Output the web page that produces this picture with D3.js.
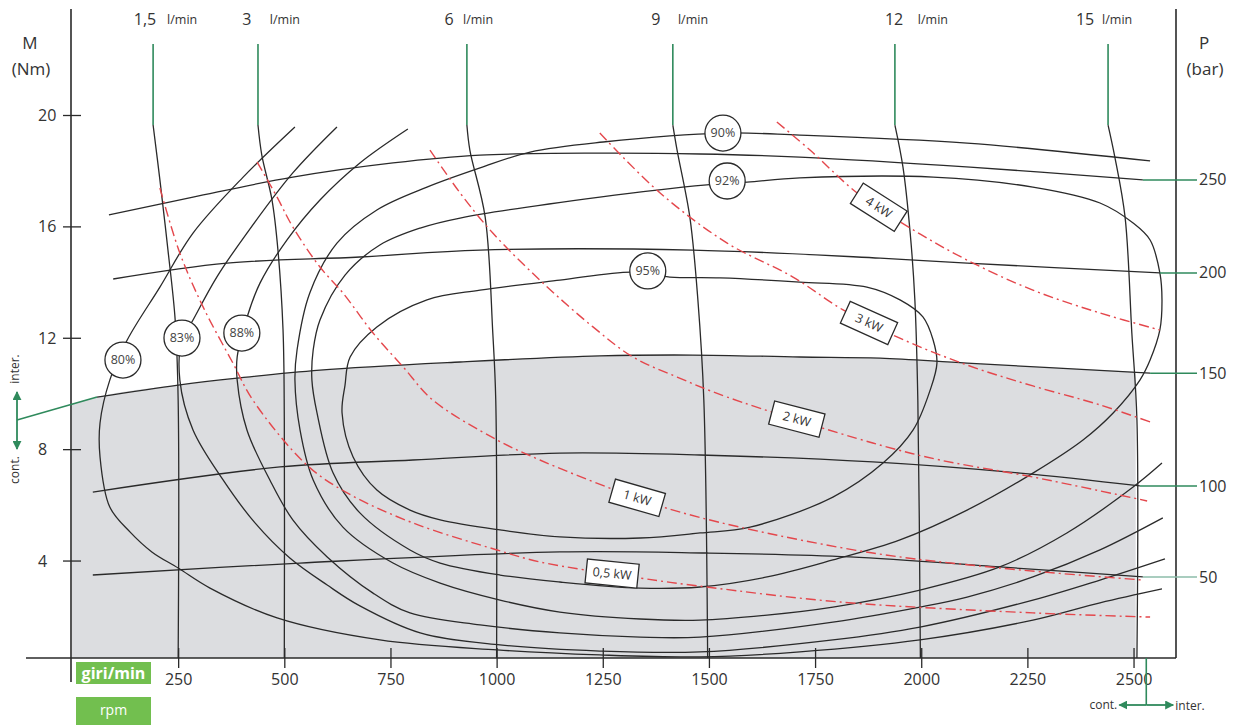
<!DOCTYPE html>
<html>
<head>
<meta charset="utf-8">
<script src="https://cdn.jsdelivr.net/npm/d3@7"></script>
<style>
    body { margin: 0; background: #fff; }
    svg { font-family: "Open Sans", sans-serif; }
    .axis text { font-size: 16px; fill: #333; }
</style>
</head>
<body>
<svg id="chart" width="1240" height="727"></svg>
<script>
// ---- data (rpm, Nm) ----
const rpmTicks = [250, 500, 750, 1000, 1250, 1500, 1750, 2000, 2250, 2500];
const torqueTicks = [4, 8, 12, 16, 20];

// pressure lines (bar)
const pressureNames = ["250", "200", "150", "100", "50"];
const p250 = [[87, 16.41], [285, 17.05], [520, 17.77], [756, 18.28], [961, 18.56], [1243, 18.63], [1479, 18.60], [1714, 18.49], [2115, 18.13], [2522, 17.67]];
const p200 = [[97, 14.11], [365, 14.68], [678, 14.90], [961, 15.15], [1462, 15.15], [1903, 14.86], [2108, 14.68], [2562, 14.33]];
const p150 = [[59, 9.87], [250, 10.30], [389, 10.55], [584, 10.84], [914, 11.13], [1243, 11.35], [1462, 11.38], [1714, 11.31], [1903, 11.27], [2108, 11.09], [2539, 10.73]];
const p100 = [[49, 6.46], [490, 7.36], [803, 7.61], [1149, 7.86], [1479, 7.79], [1886, 7.54], [2233, 7.14], [2515, 6.68]];
const p50 = [[49, 3.48], [537, 3.91], [1149, 4.31], [1495, 4.27], [1832, 4.13], [2185, 3.77], [2522, 3.41]];

// flow lines (l/min)
const flowNames = ["1,5", "3", "6", "9", "12", "15"];
const flow1_5 = [[191, 19.64], [207, 17.67], [226, 15.15], [243, 12.64], [250, 9.76], [250, 0.5]];
const flow3 = [[438, 19.64], [447, 18.56], [471, 16.95], [485, 15.15], [497, 12.28], [500, 9.05], [500, 0.5]];
const flow6 = [[930, 19.64], [937, 18.74], [973, 16.34], [991, 12.17], [998, 9.76], [1000, 0.5]];
const flow9 = [[1415, 19.64], [1425, 18.74], [1455, 16.34], [1474, 13.36], [1488, 9.76], [1497, 0.5]];
const flow12 = [[1938, 19.64], [1957, 18.13], [1974, 15.76], [1985, 13.36], [1992, 9.76], [1998, 0.5]];
const flow15 = [[2440, 19.64], [2456, 18.49], [2480, 16.34], [2496, 12.17], [2508, 9.05], [2508, 0.5]];
const flowLabelAt = [[172, 224], [412, 466], [888, 921], [1375, 1427], [1936, 1992], [2386, 2426]];

// efficiency contours
const effNames = ["80%", "83%", "88%", "90%", "92%", "95%"];
const eff80 = [[525, 19.57], [403, 17.77], [285, 15.76], [207, 13.82], [130, 11.92], [89, 10.48], [66, 8.94], [66, 7.72], [89, 5.92], [137, 5.02], [188, 4.31], [250, 3.73], [325, 3.01], [483, 1.94], [725, 1.15], [1001, 0.79], [1243, 0.61], [1479, 0.54], [1714, 0.72], [1997, 1.15], [2263, 1.86], [2421, 2.48], [2567, 2.98]];
const eff83 = [[624, 19.57], [520, 17.92], [412, 15.76], [341, 14.18], [285, 12.64], [259, 11.92], [254, 10.48], [285, 8.69], [353, 6.96], [431, 5.35], [513, 4.09], [601, 3.12], [678, 2.37], [820, 1.40], [1008, 0.97], [1243, 0.75], [1479, 0.72], [1792, 1.15], [1997, 1.61], [2263, 2.58], [2421, 3.30], [2574, 4.06]];
const eff88 = [[791, 19.50], [678, 18.28], [584, 16.95], [506, 15.51], [443, 13.97], [414, 12.82], [389, 11.31], [389, 10.48], [412, 8.69], [466, 6.89], [520, 5.46], [601, 4.13], [709, 2.83], [796, 2.12], [961, 1.69], [1149, 1.40], [1338, 1.25], [1479, 1.25], [1792, 1.79], [1997, 2.33], [2108, 2.69], [2263, 3.41], [2421, 4.38], [2569, 5.53]];
const eff90 = [[2539, 18.35], [2108, 18.99], [1714, 19.28], [1533, 19.35], [1251, 19.03], [1079, 18.67], [961, 18.10], [836, 17.41], [718, 16.59], [624, 15.40], [560, 13.61], [530, 11.56], [525, 10.48], [537, 8.69], [568, 6.89], [638, 5.20], [756, 3.91], [867, 3.19], [1008, 2.58], [1149, 2.15], [1338, 1.90], [1479, 1.86], [1637, 2.04], [1792, 2.33], [1997, 2.94], [2185, 3.77], [2343, 4.99], [2499, 6.64], [2567, 7.50]];
const eff92 = [[1590, 17.59], [1714, 17.74], [2028, 17.77], [2263, 17.41], [2421, 16.84], [2499, 16.12], [2539, 15.51], [2562, 14.33], [2567, 13.36], [2562, 12.28], [2539, 11.20], [2515, 10.48], [2452, 9.30], [2381, 8.33], [2263, 7.14], [2108, 5.81], [1950, 4.74], [1792, 4.02], [1637, 3.41], [1479, 3.05], [1338, 3.01], [1149, 3.23], [1008, 3.48], [867, 3.91], [796, 4.38], [678, 5.71], [615, 7.14], [577, 9.30], [565, 10.48], [568, 11.56], [584, 12.64], [643, 14.25], [725, 15.33], [820, 15.94], [914, 16.30], [1243, 17.05], [1495, 17.49]];
const eff95 = [[1408, 14.18], [1526, 14.15], [1714, 14.00], [1872, 13.82], [1950, 13.36], [2004, 12.75], [2028, 11.92], [2037, 11.09], [2021, 10.12], [1981, 8.69], [1910, 7.50], [1792, 6.28], [1597, 5.20], [1479, 4.99], [1338, 4.81], [1149, 4.85], [1008, 5.10], [867, 5.46], [796, 5.81], [718, 6.53], [662, 7.72], [636, 9.30], [643, 10.30], [655, 11.31], [718, 12.39], [836, 13.36], [961, 13.71], [1149, 14.07], [1319, 14.36]];
const effLabelAt = [[120, 11.20], [259, 11.99], [400, 12.17], [1533, 19.35], [1543, 17.63], [1356, 14.40]];

// power lines (kW)
const powerNames = ["0,5 kW", "1 kW", "2 kW", "3 kW", "4 kW"];
const kw0_5 = [[207, 17.38], [254, 15.04], [309, 13.10], [379, 11.09], [426, 9.76], [553, 7.43], [648, 6.43], [803, 5.35], [1001, 4.38], [1102, 3.95], [1338, 3.37], [1495, 3.05], [1809, 2.51], [2263, 2.12], [2539, 1.97]];
const kw1 = [[436, 18.31], [483, 17.05], [520, 15.98], [584, 14.54], [638, 13.61], [709, 12.17], [780, 10.95], [850, 9.76], [1001, 8.33], [1102, 7.61], [1260, 6.64], [1392, 5.92], [1573, 5.20], [1886, 4.27], [2185, 3.73], [2522, 3.30]];
const kw2 = [[843, 18.74], [914, 17.20], [991, 15.76], [1109, 13.97], [1227, 12.39], [1321, 11.31], [1425, 10.59], [1543, 9.87], [1886, 8.22], [2044, 7.61], [2263, 7.00], [2532, 6.14]];
const kw3 = [[1243, 19.35], [1385, 17.20], [1543, 15.40], [1698, 14.18], [1816, 13.00], [1943, 12.03], [2108, 11.02], [2263, 10.27], [2421, 9.59], [2546, 8.94]];
const kw4 = [[1660, 19.75], [1738, 18.74], [1849, 17.20], [1974, 15.94], [2108, 14.79], [2263, 13.71], [2421, 12.89], [2562, 12.28]];
const powerLabelRpm = [1272, 1331, 1707, 1877, 1900];

// continuous duty region (below 150 bar, up to max continuous speed)
const contTop = [[0, 9.62], [59, 9.87], [250, 10.30], [389, 10.55], [584, 10.84], [914, 11.13], [1243, 11.35], [1462, 11.38], [1714, 11.31], [1903, 11.27], [2108, 11.09], [2505, 10.78]];
const contMaxRpm = 2530;

// ---- chart ----
const svg = d3.select("#chart");
const green = "#2f8a5c";
const ink = "#2a2a2a";
const red = "#e4474c";

const x = d3.scaleLinear().domain([0, 2600]).range([72, 1176]);
const y = d3.scaleLinear().domain([0.5, 20]).range([658, 115]);

const line = d3.line()
    .x(d => x(d[0]))
    .y(d => y(d[1]))
    .curve(d3.curveCatmullRom.alpha(0.5));

const loop = d3.line()
    .x(d => x(d[0]))
    .y(d => y(d[1]))
    .curve(d3.curveCatmullRomClosed.alpha(0.5));

const defs = svg.append("defs");
defs.append("marker")
    .attr("id", "arrow")
    .attr("viewBox", "0 0 10 10")
    .attr("refX", 9).attr("refY", 5)
    .attr("markerWidth", 9).attr("markerHeight", 9)
    .attr("markerUnits", "userSpaceOnUse")
    .attr("orient", "auto-start-reverse")
    .append("path")
    .attr("d", "M0,0L10,5L0,10Z")
    .attr("fill", green);

// gray shaded area
svg.append("path")
    .datum(contTop)
    .attr("d", d3.area()
        .x(d => x(d[0]))
        .y0(y(0.5))
        .y1(d => y(d[1]))
        .curve(d3.curveMonotoneX))
    .attr("fill", "#dcdde0");

// black curves
const pressureLines = [p250, p200, p150, p100, p50];
const flowLines = [flow1_5, flow3, flow6, flow9, flow12, flow15];
const openEff = [eff80, eff83, eff88, eff90];
const closedEff = [eff92, eff95];

const curves = svg.append("g")
    .attr("fill", "none")
    .attr("stroke", ink)
    .attr("stroke-width", 1.3);

curves.selectAll(".pressure")
    .data(pressureLines)
    .enter().append("path")
    .attr("class", "pressure")
    .attr("d", line);

curves.selectAll(".flow")
    .data(flowLines)
    .enter().append("path")
    .attr("class", "flow")
    .attr("d", line);

curves.selectAll(".eff")
    .data(openEff)
    .enter().append("path")
    .attr("class", "eff")
    .attr("d", line);

curves.selectAll(".effloop")
    .data(closedEff)
    .enter().append("path")
    .attr("class", "effloop")
    .attr("d", loop);

// red power lines
const powerLines = [kw0_5, kw1, kw2, kw3, kw4];
svg.append("g")
    .attr("fill", "none")
    .attr("stroke", red)
    .attr("stroke-width", 1.4)
    .attr("stroke-dasharray", "10,4,2,4")
    .selectAll("path")
    .data(powerLines)
    .enter().append("path")
    .attr("d", line);

// axes
const yAxisG = svg.append("g")
    .attr("class", "axis")
    .attr("transform", `translate(${x(0) - 1},0)`)
    .call(d3.axisLeft(y).tickValues(torqueTicks).tickSize(8))
    .attr("font-family", null).attr("font-size", null);
yAxisG.select(".domain").remove();
yAxisG.selectAll(".tick line").attr("x1", 10).attr("stroke", ink).attr("stroke-width", 1.3);
yAxisG.selectAll(".tick text").attr("x", -33).attr("text-anchor", "start").attr("dy", "0.35em");

const xAxisG = svg.append("g")
    .attr("class", "axis")
    .attr("transform", `translate(0,${y(0.5)})`)
    .call(d3.axisBottom(x).tickValues(rpmTicks).tickSize(10).tickFormat(d3.format("d")))
    .attr("font-family", null).attr("font-size", null);
xAxisG.select(".domain").remove();
xAxisG.selectAll(".tick line").attr("y1", -10).attr("stroke", ink).attr("stroke-width", 1.3);
xAxisG.selectAll(".tick text").attr("y", 27).attr("dy", null);

// axis frame lines
svg.append("line")
    .attr("x1", x(0) - 46).attr("x2", x(2600))
    .attr("y1", y(0.5)).attr("y2", y(0.5))
    .attr("stroke", ink).attr("stroke-width", 1.6);
svg.append("line")
    .attr("x1", x(0) - 1).attr("x2", x(0) - 1)
    .attr("y1", 9).attr("y2", 682)
    .attr("stroke", ink).attr("stroke-width", 1.6);
svg.append("line")
    .attr("x1", x(2600)).attr("x2", x(2600))
    .attr("y1", 9).attr("y2", y(0.5))
    .attr("stroke", ink).attr("stroke-width", 1.6);

// axis titles
svg.append("text").attr("x", 30).attr("y", 49).attr("text-anchor", "middle")
    .attr("font-size", 17).attr("fill", "#333").text("M");
svg.append("text").attr("x", 31).attr("y", 75).attr("text-anchor", "middle")
    .attr("font-size", 17).attr("fill", "#333").text("(Nm)");
svg.append("text").attr("x", 1204).attr("y", 49).attr("text-anchor", "middle")
    .attr("font-size", 17).attr("fill", "#333").text("P");
svg.append("text").attr("x", 1205).attr("y", 75).attr("text-anchor", "middle")
    .attr("font-size", 17).attr("fill", "#333").text("(bar)");

// pressure ticks on the right
const pTicks = svg.append("g");
pressureLines.forEach((pts, i) => {
    const last = pts[pts.length - 1];
    pTicks.append("line")
        .attr("x1", x(last[0])).attr("x2", x(2600) + 21)
        .attr("y1", y(last[1])).attr("y2", y(last[1]))
        .attr("stroke", i === 4 ? "#8dbdaa" : green)
        .attr("stroke-width", 1.5);
    pTicks.append("text")
        .attr("x", x(2600) + 23).attr("y", y(last[1]))
        .attr("dy", "0.35em")
        .attr("font-size", 16).attr("fill", "#333")
        .text(pressureNames[i]);
});

// flow stems and labels
const stemTop = 44;
flowLines.forEach((pts, i) => {
    const first = pts[0];
    svg.append("line")
        .attr("x1", x(first[0])).attr("x2", x(first[0]))
        .attr("y1", stemTop).attr("y2", y(first[1]))
        .attr("stroke", green).attr("stroke-width", 1.6);
    svg.append("text")
        .attr("x", x(flowLabelAt[i][0])).attr("y", 25)
        .attr("text-anchor", "middle")
        .attr("font-size", 16).attr("fill", "#333")
        .text(flowNames[i]);
    svg.append("text")
        .attr("x", x(flowLabelAt[i][1])).attr("y", 24)
        .attr("font-size", 12.5).attr("fill", "#333")
        .text("l/min");
});

// power labels: box rotated along the line
function interpAt(pts, r) {
    for (let k = 1; k < pts.length; k++) {
        if (r <= pts[k][0]) {
            const t = (r - pts[k - 1][0]) / (pts[k][0] - pts[k - 1][0]);
            return [r, pts[k - 1][1] + t * (pts[k][1] - pts[k - 1][1])];
        }
    }
    return pts[pts.length - 1];
}

powerLines.forEach((pts, i) => {
    const r = powerLabelRpm[i];
    const c = interpAt(pts, r);
    const a = interpAt(pts, r - 110);
    const b = interpAt(pts, r + 110);
    const ang = Math.atan2(y(b[1]) - y(a[1]), x(b[0]) - x(a[0])) * 180 / Math.PI - 3;
    const g = svg.append("g")
        .attr("transform", `translate(${x(c[0])},${y(c[1])}) rotate(${ang})`);
    g.append("rect")
        .attr("x", -26).attr("y", -12)
        .attr("width", 52).attr("height", 24)
        .attr("fill", "#fff").attr("stroke", ink).attr("stroke-width", 1.3);
    g.append("text")
        .attr("text-anchor", "middle").attr("dy", "0.35em")
        .attr("font-size", 12.5).attr("fill", "#333")
        .text(powerNames[i]);
});

// efficiency labels
const effG = svg.append("g");
effLabelAt.forEach((p, i) => {
    effG.append("circle")
        .attr("cx", x(p[0])).attr("cy", y(p[1])).attr("r", 18)
        .attr("fill", "#fff").attr("stroke", ink).attr("stroke-width", 1.3);
    effG.append("text")
        .attr("x", x(p[0])).attr("y", y(p[1]))
        .attr("text-anchor", "middle").attr("dy", "0.35em")
        .attr("font-size", 12.5).attr("fill", "#444")
        .text(effNames[i]);
});

// cont./inter. marker on the left
const jy = 420;
svg.append("line")
    .attr("x1", 17).attr("x2", 17).attr("y1", jy).attr("y2", 392)
    .attr("stroke", green).attr("stroke-width", 1.8).attr("marker-end", "url(#arrow)");
svg.append("line")
    .attr("x1", 17).attr("x2", 17).attr("y1", jy).attr("y2", 449)
    .attr("stroke", green).attr("stroke-width", 1.8).attr("marker-end", "url(#arrow)");
svg.append("line")
    .attr("x1", 17).attr("y1", jy)
    .attr("x2", x(p150[0][0])).attr("y2", y(p150[0][1]))
    .attr("stroke", green).attr("stroke-width", 1.6);
svg.append("text")
    .attr("transform", "translate(19,369) rotate(-90)")
    .attr("text-anchor", "middle")
    .attr("font-size", 12).attr("fill", "#333").text("inter.");
svg.append("text")
    .attr("transform", "translate(19,470) rotate(-90)")
    .attr("text-anchor", "middle")
    .attr("font-size", 12).attr("fill", "#333").text("cont.");

// cont./inter. marker at the bottom right
const mx = x(contMaxRpm);
const my = 705;
svg.append("line")
    .attr("x1", mx).attr("x2", mx).attr("y1", y(0.5)).attr("y2", my)
    .attr("stroke", green).attr("stroke-width", 1.6);
svg.append("line")
    .attr("x1", mx).attr("x2", mx - 27).attr("y1", my).attr("y2", my)
    .attr("stroke", green).attr("stroke-width", 1.8).attr("marker-end", "url(#arrow)");
svg.append("line")
    .attr("x1", mx).attr("x2", mx + 27).attr("y1", my).attr("y2", my)
    .attr("stroke", green).attr("stroke-width", 1.8).attr("marker-end", "url(#arrow)");
svg.append("text")
    .attr("x", mx - 29).attr("y", my + 4).attr("text-anchor", "end")
    .attr("font-size", 12).attr("fill", "#333").text("cont.");
svg.append("text")
    .attr("x", mx + 29).attr("y", my + 5)
    .attr("font-size", 12).attr("fill", "#333").text("inter.");

// rpm unit boxes
const boxG = svg.append("g");
boxG.append("rect")
    .attr("x", 76).attr("y", 662).attr("width", 75).attr("height", 22)
    .attr("fill", "#72bf4f");
boxG.append("text")
    .attr("x", 113.5).attr("y", 679).attr("text-anchor", "middle")
    .attr("font-size", 16).attr("font-weight", "bold").attr("fill", "#fff")
    .text("giri/min");
boxG.append("rect")
    .attr("x", 76).attr("y", 697).attr("width", 75).attr("height", 28)
    .attr("fill", "#72bf4f");
boxG.append("text")
    .attr("x", 113.5).attr("y", 715).attr("text-anchor", "middle")
    .attr("font-size", 14).attr("fill", "#fff")
    .text("rpm");
</script>
</body>
</html>
